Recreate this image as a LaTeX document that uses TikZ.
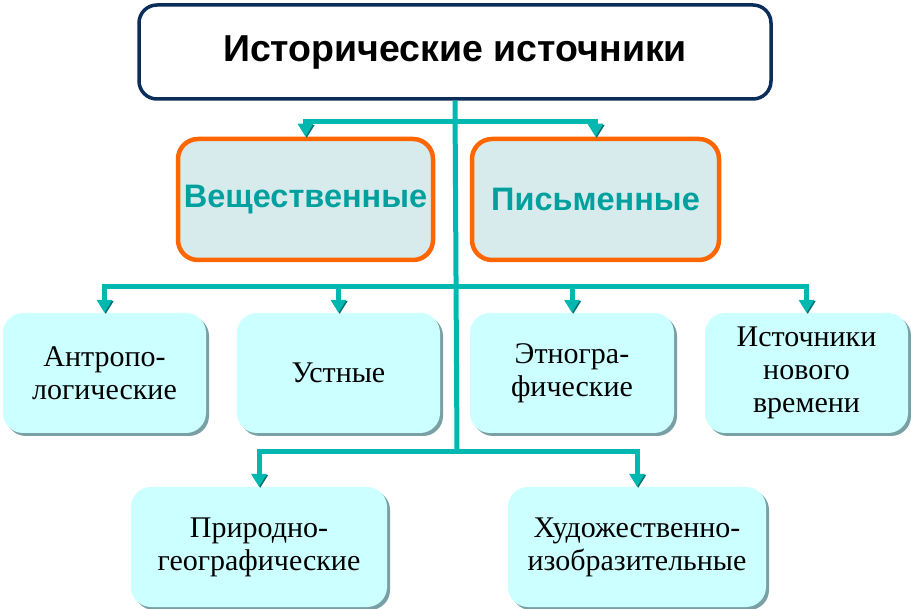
\documentclass[tikz,border=0pt]{standalone}
\usepackage{fontspec}
\setmainfont{Liberation Serif}
\newfontfamily\hsans{Liberation Sans}
\usetikzlibrary{arrows.meta,shadows}
\definecolor{navy}{RGB}{10,45,90}
\definecolor{tealA}{RGB}{0,184,176}
\definecolor{tealB}{RGB}{0,110,110}
\definecolor{tealT}{RGB}{0,160,158}
\definecolor{orangeB}{RGB}{255,102,0}
\definecolor{grayfill}{RGB}{215,235,236}
\definecolor{cyanfill}{RGB}{204,255,255}
\definecolor{shadowc}{RGB}{120,160,165}
\begin{document}
\begin{tikzpicture}[x=1pt,y=-1pt,
  titlebox/.style={draw=navy, line width=3.5pt, fill=white, rounded corners=18pt,
    minimum width=632pt, minimum height=94pt, inner sep=0pt,
    font=\hsans\bfseries\fontsize{37.5}{42}\selectfont},
  kindbox/.style={draw=orangeB, line width=4.5pt, fill=grayfill, rounded corners=20pt,
    minimum width=255pt, minimum height=121pt, inner sep=0pt, text=tealT,
    font=\hsans\bfseries\fontsize{32.5}{36}\selectfont},
  leafbox/.style={fill=cyanfill, rounded corners=20pt, inner sep=0pt,
    minimum height=120pt, align=center,
    drop shadow={shadow xshift=3pt, shadow yshift=-3pt, fill=shadowc, opacity=1},
    font=\fontsize{30}{33}\selectfont},
  conn/.style={draw=tealA, line width=5pt, -{Triangle[width=15pt,length=13pt]},
    preaction={draw=tealB, transform canvas={xshift=1.2pt,yshift=-1.2pt}}},
  trunk/.style={draw=tealA, line width=5pt,
    preaction={draw=tealB, transform canvas={xshift=1.2pt,yshift=-1.2pt}}}
]
\useasboundingbox (0,0) rectangle (911,609);

\node[titlebox] (t) at (455,52) {Исторические источники};

\coordinate (j1) at (457,122);
\coordinate (j2) at (457,287);
\coordinate (j3) at (457,452);

\node[kindbox] (v) at (305.5,199.5) {Вещественные};
\node[kindbox, minimum width=247pt] (p) at (595.5,199.5) {Письменные};

\node[leafbox, minimum width=203pt] (a) at (104.5,373) {Антропо-\\логические};
\node[leafbox, minimum width=203pt] (u) at (338.5,373) {Устные};
\node[leafbox, minimum width=204pt] (e) at (572,373) {Этногра-\\фические};
\node[leafbox, minimum width=203pt] (n) at (806.5,373) {Источники\\нового\\времени};

\node[leafbox, minimum width=256pt] (g) at (259,547) {Природно-\\географические};
\node[leafbox, minimum width=258pt] (h) at (637,547) {Художественно-\\изобразительные};

\draw[trunk] (t.south) -- (j3);
\draw[conn] (j1) -| (v.north);
\draw[conn] (j1) -| (p.north);
\draw[conn] (j2) -| (a.north);
\draw[conn] (j2) -| (u.north);
\draw[conn] (j2) -| (e.north);
\draw[conn] (j2) -| (n.north);
\draw[conn] (j3) -| (g.north);
\draw[conn] (j3) -| (h.north);
\end{tikzpicture}
\end{document}
